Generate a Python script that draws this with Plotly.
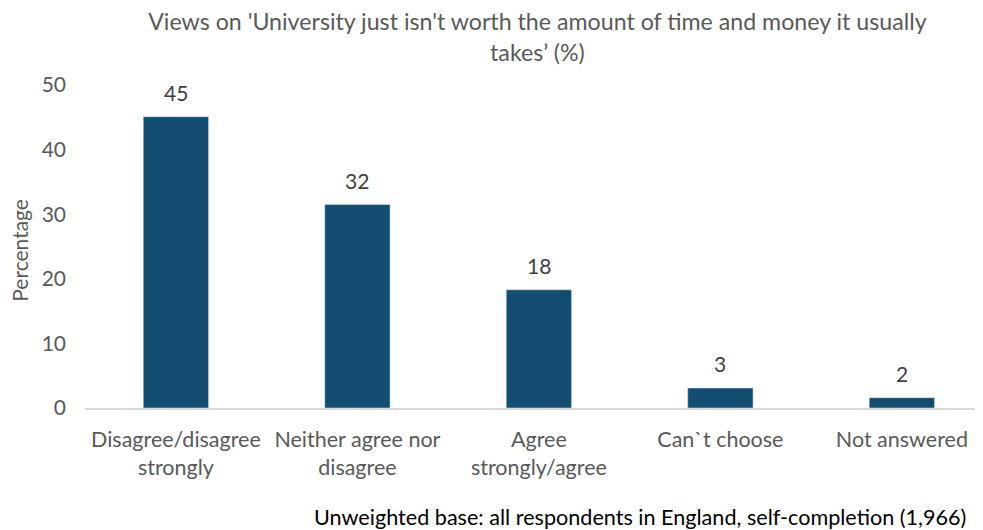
import plotly.graph_objects as go

categories = ["Disagree/disagree<br>strongly", "Neither agree nor<br>disagree", "Agree<br>strongly/agree",
              "Can`t choose", "Not answered"]
values = [45.1, 31.5, 18.3, 3.1, 1.6]
labels = ["45", "32", "18", "3", "2"]
yticks = [0, 10, 20, 30, 40, 50]

FONT = "Lato, 'Open Sans', sans-serif"
GRAY = "#595959"

xs = list(range(len(categories)))
fig = go.Figure(go.Bar(
    x=xs, y=values, marker=dict(color="#134E72"), width=0.36, hoverinfo="y",
))
for xv, yv, lab in zip(xs, values, labels):
    fig.add_annotation(x=xv, y=yv, text=lab, showarrow=False, yanchor="bottom", yshift=10,
                       font=dict(family=FONT, size=21, color="#404040"))

fig.update_layout(
    width=975, height=522, plot_bgcolor="white", paper_bgcolor="white",
    margin=dict(l=77, r=0, t=77, b=122, autoexpand=False),
    showlegend=False,
    title=dict(text="Views on 'University just isn't worth the amount of time and money it usually<br>takes’ (%)",
               x=0.543, xanchor="center", y=0.957, yanchor="top",
               font=dict(family=FONT, size=23.2, color=GRAY)),
    font=dict(family=FONT, color=GRAY),
)
fig.update_xaxes(
    tickmode="array", tickvals=xs, ticktext=categories, automargin=False,
    range=[-0.501, 4.447], showgrid=False, showline=True, linecolor="#d9d9d9", linewidth=1.5,
    tickfont=dict(family=FONT, size=21.5, color=GRAY), ticks="", zeroline=False, ticklabelstandoff=11,
)
fig.update_yaxes(
    range=[0, 50], tickvals=yticks, showgrid=False, zeroline=False, showline=False, automargin=False,
    tickfont=dict(family=FONT, size=21, color=GRAY), ticklabelstandoff=18,
)
fig.add_annotation(
    text="Percentage", xref="paper", yref="paper", x=-0.0724, y=0.49, textangle=-90,
    xanchor="center", yanchor="middle", showarrow=False,
    font=dict(family=FONT, size=21, color=GRAY),
)
fig.add_annotation(
    text="Unweighted base: all respondents in England, self-completion (1,966)",
    xref="paper", yref="paper", x=0.983, y=-0.337, xanchor="right", yanchor="middle",
    showarrow=False, font=dict(family=FONT, size=21.6, color="#000000"),
)
fig.write_html("out.html")
